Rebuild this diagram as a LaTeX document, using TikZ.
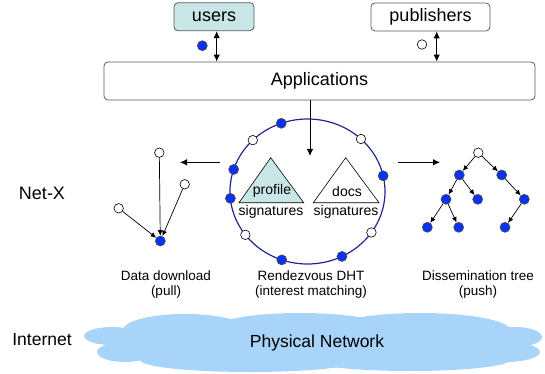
\documentclass[tikz,border=0pt]{standalone}
\usepackage{fontspec}
\setmainfont{Liberation Sans}
\usetikzlibrary{arrows.meta,shapes.geometric}
\definecolor{tealc}{RGB}{200,230,230}
\definecolor{cloudc}{RGB}{168,212,250}
\definecolor{dotblue}{RGB}{10,50,240}
\definecolor{ringc}{RGB}{30,40,140}
\definecolor{boxc}{RGB}{90,90,90}
\tikzset{
  box/.style={draw=boxc,rounded corners=4pt,line width=0.8pt,inner sep=0pt},
  bdot/.style={circle,fill=dotblue,draw=black!70,line width=0.6pt,inner sep=0pt,minimum size=10pt},
  wdot/.style={circle,fill=white,draw=black,line width=0.6pt,inner sep=0pt,minimum size=9.5pt},
  arr/.style={-{Latex[length=7pt,width=6.5pt]},line width=0.9pt},
  darr/.style={{Latex[length=7pt,width=6.5pt]}-{Latex[length=7pt,width=6.5pt]},line width=1pt},
  sarr/.style={-{Latex[length=5.5pt,width=5pt]},line width=0.7pt},
  big/.style={font=\fontsize{18}{21}\selectfont},
  mid/.style={font=\fontsize{17.5}{20}\selectfont},
  lab/.style={font=\fontsize{13.5}{15.5}\selectfont,align=center},
  tri/.style={font=\fontsize{14}{16}\selectfont,inner sep=0pt},
}
\begin{document}
\begin{tikzpicture}[x=1pt,y=-1pt]
\useasboundingbox (0,0) rectangle (545,374);
% cloud
\begin{scope}[cloudc]
\fill (112,336) ellipse [x radius=28,y radius=9];
\fill (125,352) ellipse [x radius=28,y radius=10];
\fill (185,330) ellipse [x radius=62,y radius=16];
\fill (300,328) ellipse [x radius=85,y radius=15];
\fill (420,330) ellipse [x radius=90,y radius=17];
\fill (515,337) ellipse [x radius=27,y radius=10];
\fill (505,352) ellipse [x radius=35,y radius=10];
\fill (310,345) ellipse [x radius=200,y radius=22];
\fill (250,360) ellipse [x radius=110,y radius=12];
\fill (410,360) ellipse [x radius=100,y radius=11];
\end{scope}
\node[mid] (phys) at (317,343) {Physical Network};
\node[mid] (inet) at (42,340) {Internet};
\node[font=\fontsize{18}{21}\selectfont] (netx) at (42,193) {Net-X};
% top boxes
\node[box,fill=tealc,big,minimum width=80pt,minimum height=28pt] (users) at (214,16.7) {users};
\node[box,fill=white,big,minimum width=119pt,minimum height=28pt] (pubs) at (430.5,17) {publishers};
\node[box,fill=white,big,minimum width=431pt,minimum height=38pt] (apps) at (319.5,81) {Applications};
\coordinate (ua) at (216.7,0);
\coordinate (pa) at (436.7,0);
\draw[darr] (users.south -| ua) -- (apps.north -| ua);
\draw[darr] (pubs.south -| pa) -- (apps.north -| pa);
\node[bdot] (udot) at (202.3,45.7) {};
\node[wdot] (pdot) at (422,44.5) {};
% DHT ring
\node[draw=ringc,line width=1.2pt,ellipse,minimum width=155pt,minimum height=145pt,inner sep=0pt] (dht) at (307.5,191.5) {};
\coordinate (aend) at (310,156);
\draw[arr] (apps.south -| aend) -- (aend);
% triangles
\draw[fill=tealc,line width=0.6pt] (270.7,157.7) -- (239,202.7) -- (303.7,202.7) -- cycle;
\draw[fill=white,line width=0.6pt] (345.7,157.7) -- (313.3,202.7) -- (379,202.7) -- cycle;
\node[tri] (prof) at (272,191) {profile};
\node[tri] (docs) at (347,191) {docs};
\node[tri] (sig1) at (271,211.5) {signatures};
\node[tri] (sig2) at (346,211.5) {signatures};
% ring dots
\foreach \a/\t [count=\i] in {250.2/bdot,225.1/wdot,313.6/wdot,197.7/bdot,174.6/bdot,347.5/bdot,143.3/wdot,34.4/wdot,109.4/bdot,63.6/bdot}
  \path (dht.center) ++(\a:77.5 and 72.5) node[\t] (r\i) {};
% side arrows
\coordinate (la1) at (220,162.3);
\coordinate (la2) at (180,162.3);
\coordinate (ra1) at (398,162.3);
\coordinate (ra2) at (440,162.3);
\draw[arr] (la1) -- (la2);
\draw[arr] (ra1) -- (ra2);
% data download
\node[wdot] (d1) at (159.3,152.7) {};
\node[wdot] (d2) at (184.7,184.3) {};
\node[wdot] (d3) at (118.7,208.3) {};
\node[bdot] (dd) at (160.3,241) {};
\draw[sarr] (d1) -- (dd);
\draw[sarr] (d2) -- (dd);
\draw[sarr] (d3) -- (dd);
% tree
\node[wdot] (t0) at (478.3,152.7) {};
\node[bdot] (t1) at (459.3,175) {};
\node[bdot] (t2) at (501.7,175) {};
\node[bdot] (t3) at (446,199.3) {};
\node[bdot] (t4) at (477.7,199.3) {};
\node[bdot] (t5) at (524.3,199.3) {};
\node[bdot] (t6) at (427.3,227.3) {};
\node[bdot] (t7) at (458.7,227.3) {};
\node[bdot] (t8) at (505,227.3) {};
\foreach \p/\c in {t0/t1,t0/t2,t1/t3,t1/t4,t2/t5,t3/t6,t3/t7,t5/t8}
  \draw[sarr] (\p) -- (\c);
% labels
\node[lab] (l1) at (166,284.5) {Data download\\(pull)};
\node[lab] (l2) at (311,284.5) {Rendezvous DHT\\(interest matching)};
\node[lab] (l3) at (478,284.5) {Dissemination tree\\(push)};
\end{tikzpicture}
\end{document}
